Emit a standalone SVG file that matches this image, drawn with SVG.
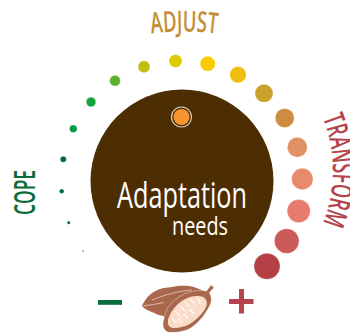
<svg xmlns="http://www.w3.org/2000/svg" width="350" height="333" viewBox="0 0 350 333">
<style>
text{font-family:"Open Sans","Liberation Sans",sans-serif}
.lab{font-size:29px;font-weight:600}
.dot{stroke:#fff;stroke-opacity:.5;stroke-width:.5}
</style>
<defs>
<path id="arcTop" d="M-66 281.500A250 250 0 0 1 434 281.500"/>
<path id="arcRight" d="M192 29.500A141 141 0 0 1 192 311.500"/>
</defs>
<rect width="350" height="333" fill="#fff"/>
<g id="hub">
<circle cx="182" cy="181" r="91.5" fill="#4d2e03"/>
<circle cx="181.500" cy="117" r="10" fill="none" stroke="#d9d2c4" stroke-width="1.2"/>
<circle cx="181.500" cy="117" r="8" fill="#f8952e"/>
<text x="117" y="208" font-size="37" fill="#fff" textLength="130" lengthAdjust="spacingAndGlyphs">Adaptation</text>
<text x="172" y="235" font-size="25" fill="#fff" textLength="56" lengthAdjust="spacingAndGlyphs">needs</text>
</g>
<g id="scale">
<circle class="dot" cx="83.3" cy="251" r=".8" fill="#00683a"/>
<circle class="dot" cx="68.7" cy="222.7" r="1.6" fill="#00683a"/>
<circle class="dot" cx="61.7" cy="191.3" r="2.3" fill="#00683a"/>
<circle class="dot" cx="63.3" cy="159.3" r="3" fill="#00683a"/>
<circle class="dot" cx="73.3" cy="128.7" r="3.8" fill="#009a44"/>
<circle class="dot" cx="91" cy="102" r="4.8" fill="#13a53c"/>
<circle class="dot" cx="115" cy="80.7" r="5.4" fill="#5cb02a"/>
<circle class="dot" cx="144" cy="66.7" r="6" fill="#bfc00e"/>
<circle class="dot" cx="175.500" cy="61" r="6.5" fill="#e3c900"/>
<circle class="dot" cx="207.7" cy="63.7" r="7.5" fill="#fbcb00"/>
<circle class="dot" cx="238" cy="74.7" r="8.2" fill="#f0be0c"/>
<circle class="dot" cx="264" cy="93.3" r="9" fill="#c8a02a"/>
<circle class="dot" cx="284.7" cy="118" r="9.5" fill="#cd8c40"/>
<circle class="dot" cx="297.3" cy="147.3" r="10" fill="#e19264"/>
<circle class="dot" cx="302.3" cy="179" r="10.7" fill="#e88a6c"/>
<circle class="dot" cx="298.7" cy="211" r="11.5" fill="#e97a6e"/>
<circle class="dot" cx="286.7" cy="241" r="12.3" fill="#cc5a58"/>
<circle class="dot" cx="267" cy="266.3" r="13" fill="#b43f45"/>
</g>
<g id="adjust"><text class="lab" fill="#c48f37" text-anchor="middle" textLength="66" lengthAdjust="spacingAndGlyphs"><textPath href="#arcTop" startOffset="50%">ADJUST</textPath></text></g>
<g id="transform"><text class="lab" fill="#b5444c" text-anchor="middle" textLength="108" lengthAdjust="spacingAndGlyphs"><textPath href="#arcRight" startOffset="50%">TRANSFORM</textPath></text></g>
<g id="cope"><text class="lab" fill="#0a6b3c" text-anchor="middle" textLength="45" lengthAdjust="spacingAndGlyphs" transform="translate(34.500 192.500) rotate(-90)">COPE</text></g>
<g id="minus"><rect x="98" y="300" width="24" height="4.800" fill="#0a6b3c"/></g>
<g id="plus"><path d="M239 289h5v10h9.500v5h-9.500v9.500h-5v-9.500h-10v-5h10z" fill="#b5444c"/></g>
<g id="pod">
<path d="M141.700 306C146 298 150 294 155 291.300C161 288 167 287.500 172 287C180 285 188 285.500 194 287L204 291L170 325L163.500 316C158 315 155 313.500 151.700 312C148 310.500 144 308.500 141.700 306Z" fill="#a9684b"/>
<path d="M142.500 306C150 305 157 304 164 302.500M151.700 300C165 295 178 291 192 290" fill="none" stroke="#e9cdbf" stroke-width=".8"/>
<path d="M211 285L214 287.500L209.500 292.500C211.500 297 212 300 210.500 304C207 311 204 316 199 321C194 326 189.500 329.500 185 330.500C178 332.500 170 333 166.700 331.500C163 329 162.500 325 163.300 321C164.500 316 166 311 168.300 307C172 301.500 178 297 185 293.700C191 291 200 289.500 206.500 291Z" fill="#a9684b" stroke="#fff" stroke-opacity=".55" stroke-width=".7"/>
<path d="M203.300 297C206 298.500 207.500 302 206.700 305.300C204.500 311 201 315 196.700 318.700C192 323 187 326 181.700 327C177 328.300 172.500 328.500 170 327C167.500 325 167.500 322 168.300 318.700C170 313.500 173 309 176.700 305.300C180.500 301.500 185 298.500 190 297C194.500 296 199.500 295.500 203.300 297Z" fill="#fbdcc8"/>
<path d="M173 324Q185 313 203 300" fill="none" stroke="#fff" stroke-width=".6" stroke-opacity=".7"/>
<path d="M175 311l5 5M180 306l5 5M185 302l5 5M190 299l5 5M197 298l3 4M172 318l4 5M178 318l4 5M184 314l4 5M190 309l4 5" fill="none" stroke="#fff" stroke-width="1.400" stroke-opacity=".8"/>
</g>
</svg>
